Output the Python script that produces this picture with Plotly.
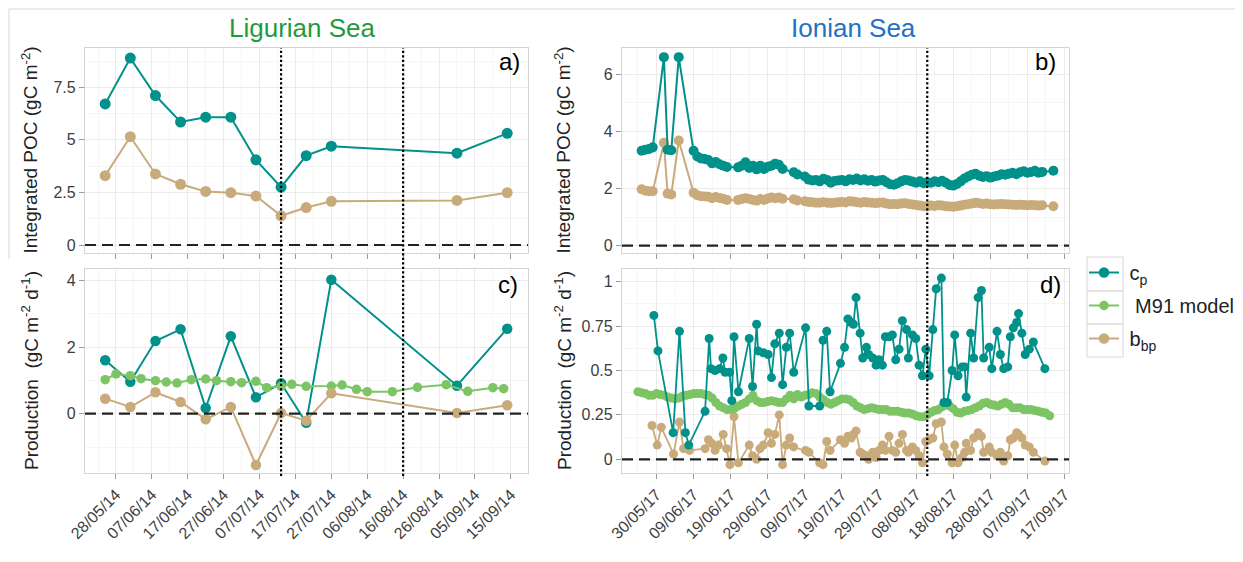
import plotly.graph_objects as go
import pandas as pd

# page body has an 8px margin: the figure is drawn 8px in from the top-left corner
OFF = 8
FW, FH = 1227, 546

# ---------------- Ligurian Sea (2014) ----------------
lig_dates = ["2014-05-25", "2014-06-01", "2014-06-08", "2014-06-15", "2014-06-22", "2014-06-29",
             "2014-07-06", "2014-07-13", "2014-07-20", "2014-07-27", "2014-08-31", "2014-09-14"]
lig_poc_cp = [6.71, 8.89, 7.11, 5.85, 6.08, 6.08, 4.05, 2.75, 4.25, 4.70, 4.37, 5.31]
lig_poc_bbp = [3.30, 5.15, 3.38, 2.89, 2.55, 2.49, 2.33, 1.39, 1.78, 2.08, 2.12, 2.49]
lig_prod_cp = [1.60, 0.96, 2.18, 2.53, 0.17, 2.32, 0.49, 0.91, -0.27, 4.02, 0.84, 2.55]
lig_prod_bbp = [0.45, 0.20, 0.64, 0.35, -0.17, 0.20, -1.54, 0.02, -0.21, 0.61, 0.02, 0.25]
lig_m91_dates = ["2014-05-25", "2014-05-28", "2014-06-01", "2014-06-04", "2014-06-08", "2014-06-11",
                 "2014-06-14", "2014-06-18", "2014-06-22", "2014-06-25", "2014-06-29", "2014-07-02",
                 "2014-07-06", "2014-07-09", "2014-07-13", "2014-07-16", "2014-07-20", "2014-07-27",
                 "2014-07-30", "2014-08-03", "2014-08-06", "2014-08-13", "2014-08-20", "2014-08-28",
                 "2014-09-03", "2014-09-10", "2014-09-13"]
lig_m91 = [1.02, 1.19, 1.14, 1.05, 0.99, 0.95, 0.92, 1.02, 1.04, 0.99, 0.96, 0.93, 0.97, 0.78,
           0.82, 0.88, 0.82, 0.83, 0.86, 0.73, 0.66, 0.66, 0.79, 0.87, 0.67, 0.78, 0.75]
lig_events = ["2014-07-13", "2014-08-16"]

# ---------------- Ionian Sea (2017) ----------------
ion_base = "2017-05-30"
ion_poc_days = [-4, -3, -2, -1, 2, 3, 4, 6, 10, 11, 12, 13, 14, 15, 16, 17, 18, 19, 22, 23, 24, 25, 26,
                27, 28, 29, 30, 31, 32, 33, 34, 37, 38, 40, 41, 42, 43, 44, 45, 46, 47, 48, 49, 50,
                51, 52, 53, 54, 55, 56, 57, 58, 59, 60, 61, 62, 63, 64, 65, 66, 67, 68, 69, 70, 71,
                72, 73, 74, 75, 76, 77, 78, 79, 80, 81, 82, 83, 84, 85, 86, 87, 88, 89, 90, 91, 92,
                93, 94, 95, 96, 97, 98, 99, 100, 101, 102, 103, 104, 107]
ion_poc_cp = [3.32, 3.36, 3.38, 3.44, 6.60, 3.36, 3.34, 6.60, 3.32, 3.12, 3.05, 3.03, 3.00, 2.88,
              2.93, 2.85, 2.80, 2.75, 2.74, 2.80, 2.92, 2.72, 2.80, 2.67, 2.80, 2.68, 2.76, 2.80,
              2.87, 2.83, 2.68, 2.57, 2.49, 2.42, 2.31, 2.28, 2.30, 2.25, 2.34, 2.30, 2.20, 2.26,
              2.28, 2.30, 2.25, 2.32, 2.30, 2.35, 2.28, 2.32, 2.27, 2.30, 2.24, 2.28, 2.30, 2.22,
              2.15, 2.13, 2.18, 2.25, 2.30, 2.28, 2.24, 2.20, 2.25, 2.18, 2.22, 2.20, 2.25, 2.22,
              2.27, 2.20, 2.12, 2.10, 2.16, 2.25, 2.35, 2.42, 2.48, 2.52, 2.45, 2.40, 2.43, 2.38,
              2.42, 2.45, 2.50, 2.48, 2.52, 2.55, 2.50, 2.57, 2.60, 2.55, 2.58, 2.62, 2.55, 2.58,
              2.62]
ion_poc_bbp = [1.97, 1.92, 1.90, 1.90, 3.60, 1.82, 1.79, 3.68, 1.85, 1.76, 1.73, 1.72, 1.71, 1.66,
               1.70, 1.67, 1.64, 1.60, 1.60, 1.63, 1.66, 1.63, 1.60, 1.57, 1.63, 1.60, 1.65, 1.68,
               1.66, 1.68, 1.64, 1.62, 1.58, 1.55, 1.53, 1.52, 1.50, 1.50, 1.52, 1.50, 1.49, 1.50,
               1.52, 1.53, 1.51, 1.55, 1.54, 1.52, 1.50, 1.53, 1.51, 1.50, 1.48, 1.50, 1.51, 1.47,
               1.45, 1.46, 1.45, 1.47, 1.48, 1.46, 1.44, 1.42, 1.40, 1.38, 1.37, 1.40, 1.39, 1.41,
               1.40, 1.38, 1.37, 1.36, 1.38, 1.40, 1.43, 1.45, 1.47, 1.50, 1.48, 1.46, 1.47, 1.45,
               1.44, 1.45, 1.46, 1.45, 1.44, 1.43, 1.42, 1.43, 1.42, 1.41, 1.42, 1.41, 1.40, 1.41,
               1.38]

ion_prod_cp_days = [-0.7, 0.4, 4.5, 6.2, 7.8, 8.7, 13.1, 14.2, 14.7, 15.8, 17.0, 17.9, 18.5, 19.7,
                    20.3, 20.9, 22.1, 25.0, 25.9, 27.0, 27.4, 28.8, 30.1, 31.0, 31.9, 33.1, 34.0,
                    35.0, 35.9, 37.0, 40.2, 41.1, 44.0, 44.9, 45.9, 46.8, 49.6, 50.7, 51.6, 52.5,
                    53.1, 53.8, 54.9, 55.6, 56.6, 57.2, 58.3, 59.2, 60.0, 60.9, 61.7, 62.7, 63.6,
                    64.5, 65.4, 66.3, 67.4, 67.9, 69.0, 69.9, 70.8, 71.7, 72.6, 73.5, 74.5, 75.4,
                    76.8, 77.5, 78.4, 79.7, 80.4, 81.3, 82.4, 83.1, 83.5, 84.7, 85.5, 86.7, 87.6,
                    88.2, 89.7, 90.4, 91.8, 92.7, 93.6, 94.7, 95.4, 96.2, 97.1, 97.6, 98.5, 99.4,
                    100.5, 101.6, 104.7]
ion_prod_cp = [0.81, 0.61, 0.15, 0.72, 0.15, 0.08, 0.27, 0.68, 0.51, 0.50, 0.51, 0.57, 0.49, 0.49,
               0.33, 0.69, 0.38, 0.68, 0.41, 0.76, 0.61, 0.60, 0.59, 0.46, 0.65, 0.71, 0.42, 0.63,
               0.71, 0.49, 0.74, 0.30, 0.30, 0.67, 0.72, 0.38, 0.54, 0.63, 0.79, 0.77, 0.76, 0.91,
               0.71, 0.57, 0.63, 0.59, 0.57, 0.53, 0.56, 0.53, 0.69, 0.69, 0.70, 0.56, 0.62, 0.78,
               0.73, 0.57, 0.70, 0.68, 0.53, 0.47, 0.62, 0.47, 0.73, 0.96, 1.02, 0.32, 0.32, 0.50,
               0.70, 0.47, 0.52, 0.52, 0.35, 0.71, 0.57, 0.91, 0.95, 0.57, 0.63, 0.51, 0.72, 0.59,
               0.51, 0.52, 0.69, 0.74, 0.77, 0.82, 0.71, 0.59, 0.62, 0.66, 0.51]

ion_prod_bbp_days = [-1.2, 0.2, 1.3, 4.6, 6.2, 7.3, 8.9, 13.1, 14.0, 14.9, 15.8, 16.7, 18.0, 18.9,
                     19.8, 20.9, 22.1, 25.0, 25.9, 27.0, 27.9, 28.8, 30.1, 31.0, 31.9, 33.1, 34.0,
                     35.0, 35.9, 37.0, 40.2, 41.1, 44.0, 44.9, 45.9, 46.8, 49.6, 50.7, 51.6, 52.5,
                     53.1, 53.8, 54.9, 55.6, 56.6, 57.2, 58.3, 59.2, 60.0, 60.9, 61.7, 62.7, 63.6,
                     64.5, 65.4, 66.3, 67.4, 67.9, 69.0, 69.9, 70.8, 71.7, 72.6, 73.5, 74.5, 75.4,
                     76.8, 77.5, 78.4, 79.7, 80.4, 81.3, 82.4, 83.1, 83.5, 84.7, 85.5, 86.7, 87.6,
                     88.2, 89.7, 90.4, 91.8, 92.7, 93.6, 94.7, 95.4, 96.2, 97.1, 97.6, 98.5, 99.4,
                     100.5, 101.6, 104.7]
ion_prod_bbp = [0.19, 0.08, 0.18, 0.03, 0.21, 0.06, 0.05, 0.06, 0.11, 0.09, 0.05, 0.08, 0.14, 0.06,
                -0.03, 0.24, -0.02, 0.08, 0.02, 0.00, 0.06, 0.08, 0.15, 0.09, 0.14, 0.25, -0.03,
                0.08, 0.12, 0.07, 0.05, 0.04, -0.02, -0.03, 0.10, 0.05, 0.11, 0.09, 0.13, 0.12,
                0.14, 0.16, 0.04, 0.03, 0.02, 0.00, 0.04, 0.01, 0.05, 0.08, 0.05, 0.13, 0.05, 0.04,
                0.09, 0.14, 0.05, 0.04, 0.07, 0.05, 0.02, -0.02, 0.10, 0.11, 0.12, 0.20, 0.21, 0.07,
                0.03, -0.02, 0.08, -0.02, 0.01, 0.04, 0.09, 0.05, 0.12, 0.15, 0.13, 0.04, 0.07,
                0.04, 0.02, 0.04, -0.01, 0.02, 0.11, 0.12, 0.15, 0.14, 0.12, 0.08, 0.07, 0.04, -0.01]

ion_m91_days = list(range(-5, 107))
ion_m91 = [0.38, 0.375, 0.37, 0.36, 0.36, 0.37, 0.365, 0.36, 0.35, 0.345, 0.34, 0.345, 0.355, 0.36,
           0.365, 0.37, 0.37, 0.37, 0.365, 0.36, 0.345, 0.32, 0.30, 0.29, 0.28, 0.28, 0.285, 0.30,
           0.31, 0.32, 0.34, 0.36, 0.33, 0.32, 0.32, 0.325, 0.33, 0.325, 0.32, 0.32, 0.34, 0.36,
           0.34, 0.365, 0.35, 0.36, 0.365, 0.375, 0.37, 0.35, 0.335, 0.32, 0.31, 0.32, 0.33, 0.34,
           0.34, 0.335, 0.32, 0.30, 0.29, 0.28, 0.285, 0.29, 0.285, 0.28, 0.28, 0.28, 0.27, 0.27,
           0.27, 0.265, 0.26, 0.26, 0.255, 0.245, 0.24, 0.24, 0.25, 0.265, 0.275, 0.28, 0.295,
           0.31, 0.30, 0.285, 0.265, 0.26, 0.27, 0.275, 0.28, 0.29, 0.30, 0.315, 0.32, 0.31, 0.305,
           0.30, 0.31, 0.32, 0.31, 0.29, 0.29, 0.29, 0.28, 0.28, 0.28, 0.275, 0.27, 0.265, 0.26,
           0.245]
ion_events = ["2017-08-11"]

NB = "\u00a0"
legend_names = [NB + "c<sub>p</sub>", NB + NB + "M91 model", NB + "b<sub>bp</sub>"]


def to_dates(days):
    return pd.Timestamp(ion_base) + pd.to_timedelta(days, unit="D")


def px_x(p):
    return (p - OFF) / FW


def px_y(p):
    return 1 - (p - OFF) / FH


COL_CP = "#00918a"
COL_M91 = "#7cc464"
COL_BBP = "#c9ab7b"
FONT = "Liberation Sans, Arial, Helvetica, sans-serif"

fig = go.Figure()


def add(x, y, color, name, xa, ya, show=False, size=10, lw=2):
    fig.add_trace(go.Scatter(x=x, y=y, mode="lines+markers", name=name, legendgroup=name,
                             showlegend=show, xaxis=xa, yaxis=ya,
                             line=dict(color=color, width=lw),
                             marker=dict(color=color, size=size)))


N_CP, N_M91, N_BBP = legend_names
# c) Ligurian production (first, so the legend groups come in this order)
add(lig_dates, lig_prod_cp, COL_CP, N_CP, "x3", "y3", show=True, size=10.5)
add(lig_m91_dates, lig_m91, COL_M91, N_M91, "x3", "y3", show=True, size=9.5)
add(lig_dates, lig_prod_bbp, COL_BBP, N_BBP, "x3", "y3", show=True, size=10.5)
# a) Ligurian POC
add(lig_dates, lig_poc_bbp, COL_BBP, N_BBP, "x", "y", size=11)
add(lig_dates, lig_poc_cp, COL_CP, N_CP, "x", "y", size=11)
# b) Ionian POC
add(to_dates(ion_poc_days), ion_poc_bbp, COL_BBP, N_BBP, "x2", "y2")
add(to_dates(ion_poc_days), ion_poc_cp, COL_CP, N_CP, "x2", "y2")
# d) Ionian production
add(to_dates(ion_prod_bbp_days), ion_prod_bbp, COL_BBP, N_BBP, "x4", "y4", size=9, lw=1.8)
add(to_dates(ion_m91_days), ion_m91, COL_M91, N_M91, "x4", "y4", size=9, lw=1.8)
add(to_dates(ion_prod_cp_days), ion_prod_cp, COL_CP, N_CP, "x4", "y4", size=9, lw=1.8)

GRID = "#ebebeb"
GRID_MIN = "#f6f6f6"
BORDER = "#d4d4d4"
DAY = 86400000.0

LX = [px_x(85), px_x(528)]
RX = [px_x(622), px_x(1069)]
TOPY = [px_y(253), px_y(48)]
BOTY = [px_y(473), px_y(269)]


def xax(domain, rng, tick0, labels, anchor):
    return dict(domain=domain, range=rng, anchor=anchor, type="date", tick0=tick0, dtick=10 * DAY,
                tickformat="%d/%m/%y", tickangle=-45, showticklabels=labels, ticks="outside",
                ticklen=5, tickcolor="#9a9a9a", tickwidth=1, showgrid=True, gridcolor=GRID,
                gridwidth=1, minor=dict(tick0=tick0, dtick=5 * DAY, showgrid=True,
                                        gridcolor=GRID_MIN, gridwidth=1),
                showline=True, mirror=True, linecolor=BORDER, linewidth=1.3, zeroline=False,
                automargin=False, tickfont=dict(family=FONT, size=16, color="#3d3d3d"))


def yax(domain, rng, dtick, anchor):
    return dict(domain=domain, range=rng, anchor=anchor, dtick=dtick, tick0=0, ticks="outside",
                ticklen=5, tickcolor="#9a9a9a", tickwidth=1, showgrid=True, gridcolor=GRID,
                gridwidth=1, minor=dict(dtick=dtick / 2, tick0=0, showgrid=True,
                                        gridcolor=GRID_MIN, gridwidth=1),
                showline=True, mirror=True, linecolor=BORDER, linewidth=1.3, zeroline=False,
                automargin=False, tickfont=dict(family=FONT, size=16, color="#3d3d3d"))


lig_rng = ["2014-05-19 09:00", "2014-09-19 19:00"]
ion_rng = ["2017-05-20 17:00", "2017-09-18 05:00"]

fig.update_layout(
    width=FW, height=FH, margin=dict(l=0, r=0, t=0, b=0, autoexpand=False),
    paper_bgcolor="white", plot_bgcolor="white",
    font=dict(family=FONT, color="#222"),
    xaxis=xax(LX, lig_rng, "2014-05-28", False, "y"),
    yaxis=yax(TOPY, [-0.38, 9.37], 2.5, "x"),
    xaxis2=xax(RX, ion_rng, "2017-05-30", False, "y2"),
    yaxis2=yax(TOPY, [-0.26, 6.92], 2, "x2"),
    xaxis3=xax(LX, lig_rng, "2014-05-28", True, "y3"),
    yaxis3=yax(BOTY, [-1.78, 4.34], 2, "x3"),
    xaxis4=xax(RX, ion_rng, "2017-05-30", True, "y4"),
    yaxis4=yax(BOTY, [-0.077, 1.071], 0.25, "x4"),
    legend=dict(x=px_x(1084), y=px_y(253), xanchor="left", yanchor="top",
                font=dict(family=FONT, size=20, color="#222"), bgcolor="rgba(0,0,0,0)",
                tracegroupgap=4, itemwidth=30, traceorder="grouped"),
)

shapes = []
for xa, ya in [("x", "y"), ("x2", "y2"), ("x3", "y3"), ("x4", "y4")]:
    shapes.append(dict(type="line", xref=xa + " domain", yref=ya, x0=0, x1=1, y0=0, y1=0,
                       line=dict(color="#222", width=2.2, dash="11px,6px"), layer="above"))
for xa, evs in [("x", lig_events), ("x2", ion_events)]:
    for d in evs:
        shapes.append(dict(type="line", xref=xa, yref="paper", x0=d, x1=d, y0=px_y(476),
                           y1=px_y(48), line=dict(color="black", width=2.2, dash="2.2px,2.3px"),
                           layer="above"))
# legend key boxes
for top, bot in [(257, 291), (291, 324), (324, 357)]:
    shapes.append(dict(type="rect", xref="paper", yref="paper", x0=px_x(1087), x1=px_x(1123),
                       y0=px_y(bot), y1=px_y(top), line=dict(color="#dcdcdc", width=1.2),
                       fillcolor="rgba(0,0,0,0)", layer="below"))
# thin frame of the original figure (top and left edges)
shapes.append(dict(type="line", xref="paper", yref="paper", x0=px_x(9), x1=1, y0=px_y(9),
                   y1=px_y(9), line=dict(color="#d6d6d6", width=1)))
shapes.append(dict(type="line", xref="paper", yref="paper", x0=px_x(9), x1=px_x(9), y0=px_y(259),
                   y1=px_y(9), line=dict(color="#d6d6d6", width=1)))
fig.update_layout(shapes=shapes)

ann = []
ann.append(dict(text="Ligurian Sea", x=px_x(302), y=px_y(28), xref="paper", yref="paper",
                xanchor="center", yanchor="middle", showarrow=False,
                font=dict(family=FONT, size=26, color="#1f9a3c")))
ann.append(dict(text="Ionian Sea", x=px_x(853), y=px_y(28), xref="paper", yref="paper",
                xanchor="center", yanchor="middle", showarrow=False,
                font=dict(family=FONT, size=26, color="#2171c7")))
for lab, xa, ya, xd, yd in [("a)", "x", "y", 0.987, 1.012), ("b)", "x2", "y2", 0.976, 1.012),
                            ("c)", "x3", "y3", 0.982, 1.0), ("d)", "x4", "y4", 0.987, 1.0)]:
    ann.append(dict(text=lab, x=xd, y=yd, xref=xa + " domain", yref=ya + " domain",
                    xanchor="right", yanchor="top", showarrow=False,
                    font=dict(family=FONT, size=24, color="black")))
ytitle_poc = "Integrated POC (gC m<sup>-2</sup>)"
ytitle_prod = "Production  (gC m<sup>-2</sup> d<sup>-1</sup>)"
for text, xpx, dom in [(ytitle_poc, 30, TOPY), (ytitle_poc, 563, TOPY),
                       (ytitle_prod, 30, BOTY), (ytitle_prod, 563, BOTY)]:
    ann.append(dict(text=text, x=px_x(xpx), y=(dom[0] + dom[1]) / 2, xref="paper", yref="paper",
                    textangle=-90, showarrow=False, xanchor="center", yanchor="middle",
                    font=dict(family=FONT, size=19, color="#222")))
fig.update_layout(annotations=ann)

fig.write_html("out.html")
